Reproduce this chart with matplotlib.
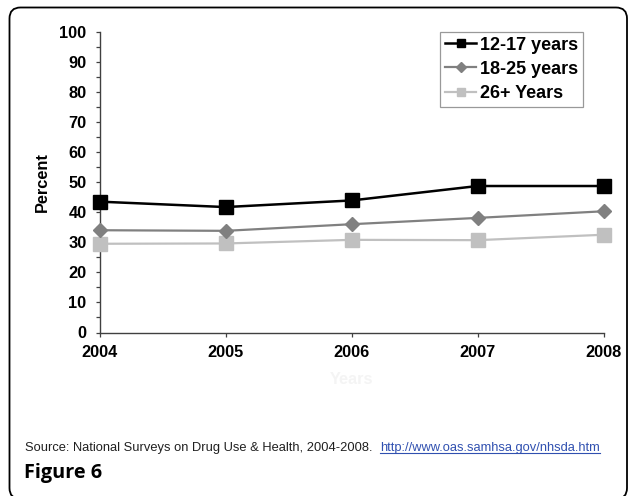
import matplotlib
matplotlib.use("Agg")
import matplotlib.pyplot as plt
from matplotlib.patches import FancyBboxPatch
from matplotlib.lines import Line2D
from matplotlib.transforms import IdentityTransform
from matplotlib.ticker import MultipleLocator

years = [2004, 2005, 2006, 2007, 2008]
age_12_17 = [43.5, 41.7, 43.9, 48.7, 48.7]
age_18_25 = [34.0, 33.8, 36.0, 38.1, 40.3]
age_26_plus = [29.5, 29.6, 30.8, 30.7, 32.5]
series_labels = ["12-17 years", "18-25 years", "26+ Years"]
y_label = "Percent"
x_label = "Years"
source_text = "Source: National Surveys on Drug Use & Health, 2004-2008."
url_text = "http://www.oas.samhsa.gov/nhsda.htm"
figure_title = "Figure 6"

W, H = 629, 496
DPI = 100
plt.rcParams['font.family'] = ['Liberation Sans', 'DejaVu Sans']

fig = plt.figure(figsize=(W / DPI, H / DPI), dpi=DPI)
fig.patch.set_facecolor('white')

# outer rounded frame
frame = FancyBboxPatch((9.5, -3), 617.5, (H - 7.5) + 3,
                       boxstyle="round,pad=0,rounding_size=11",
                       transform=IdentityTransform(), fill=False,
                       edgecolor='black', linewidth=1.3)
fig.add_artist(frame)

ax_l, ax_r, ax_t, ax_b = 99.6, 603.6, 31.7, 332.5
ax = fig.add_axes([ax_l / W, (H - ax_b) / H, (ax_r - ax_l) / W, (ax_b - ax_t) / H])

ax.plot(years, age_12_17, color='black', lw=1.8, marker='s', ms=9.5,
        label=series_labels[0], clip_on=False, zorder=5)
ax.plot(years, age_18_25, color='#808080', lw=1.6, marker='D', ms=7.5,
        label=series_labels[1], clip_on=False, zorder=4)
ax.plot(years, age_26_plus, color='#c0c0c0', lw=1.6, marker='s', ms=9.5,
        label=series_labels[2], clip_on=False, zorder=3)

ax.set_xlim(2004, 2008)
ax.set_ylim(0, 100)
ax.set_xticks(years)
ax.yaxis.set_major_locator(MultipleLocator(10))
ax.yaxis.set_minor_locator(MultipleLocator(5))
for s in ['top', 'right']:
    ax.spines[s].set_visible(False)
for s in ['left', 'bottom']:
    ax.spines[s].set_color('#404040')
    ax.spines[s].set_linewidth(1.0)
ax.tick_params(axis='y', which='both', direction='out', length=3, width=0.9,
               color='#404040', pad=6.5, labelsize=11.8)
ax.tick_params(axis='x', which='major', direction='out', length=3, width=0.9,
               color='#404040', pad=5.8, labelsize=11.8)
for lab in ax.get_xticklabels() + ax.get_yticklabels():
    lab.set_fontweight('bold')

ax.set_ylabel(y_label, fontsize=11.8, fontweight='bold', labelpad=7)
ax.set_xlabel(x_label, fontsize=11.8, fontweight='bold', color='#f4f4f4', labelpad=9)

leg = ax.legend(loc='upper right', bbox_to_anchor=((583.3 - ax_l) / (ax_r - ax_l), 1.0),
                prop={'weight': 'bold', 'size': 13}, frameon=True, fancybox=False,
                handlelength=1.72, handletextpad=0.22, borderpad=0.27, labelspacing=0.4,
                borderaxespad=0, markerscale=0.62)
leg.get_frame().set_edgecolor('#808080')
leg.get_frame().set_linewidth(0.9)

# source line
fig.text(25 / W, 1 - 450.5 / H, source_text, fontsize=9.3, color='#202020',
         ha='left', va='baseline')
url = fig.text(380 / W, 1 - 450.5 / H, url_text, fontsize=9.3, color='#3050b0',
               ha='left', va='baseline')
fig.text(24 / W, 1 - 478 / H, figure_title, fontsize=14.3, fontweight='bold',
         family=['Open Sans', 'DejaVu Sans'], ha='left', va='baseline')

fig.canvas.draw()
bb = url.get_window_extent()
uy = (H - 452.5)
fig.add_artist(Line2D([bb.x0, bb.x1], [uy, uy], transform=IdentityTransform(),
                      color='#3050b0', lw=0.8))

fig.savefig('out.png', dpi=DPI)
